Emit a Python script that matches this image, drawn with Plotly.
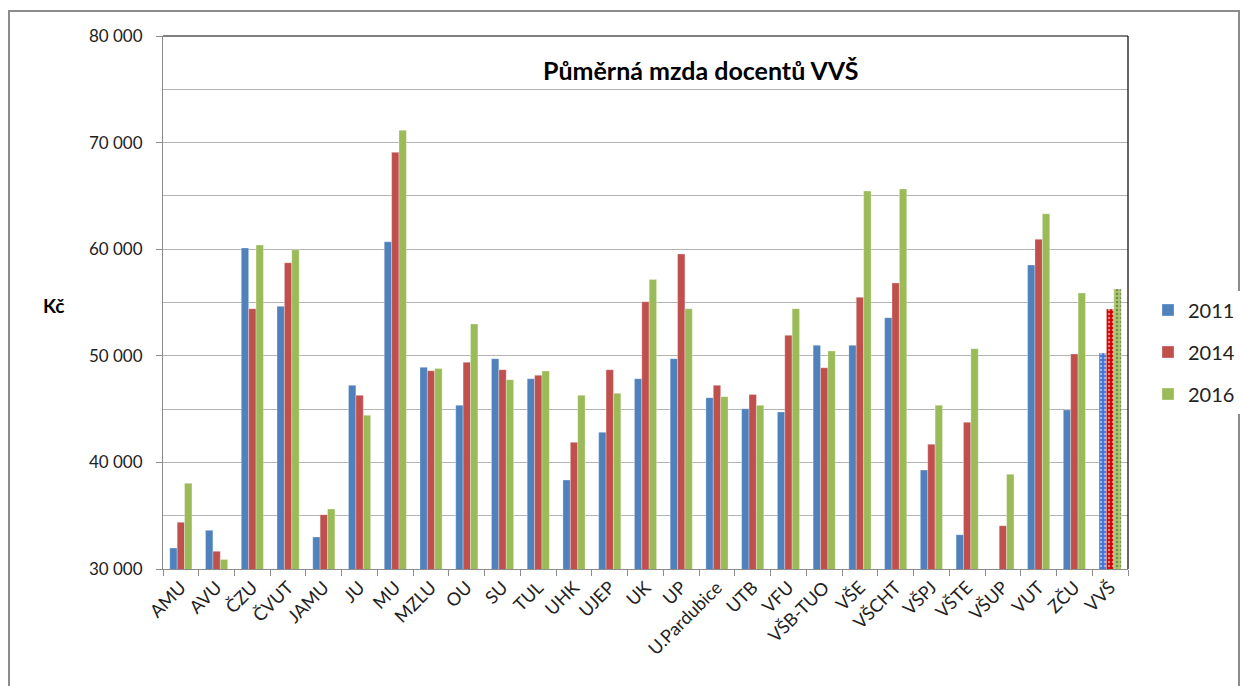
import plotly.graph_objects as go

# Average salary of associate professors (docenti) per university, CZK
schools = ["AMU", "AVU", "ČZU", "ČVUT", "JAMU", "JU", "MU", "MZLU", "OU", "SU",
           "TUL", "UHK", "UJEP", "UK", "UP", "U.Pardubice", "UTB", "VFU", "VŠB-TUO",
           "VŠE", "VŠCHT", "VŠPJ", "VŠTE", "VŠUP", "VUT", "ZČU", "VVŠ"]
mzda_2011 = [31970, 33630, 60110, 54640, 33000, 47230, 60700, 48920, 45360, 49730,
             47850, 38350, 42820, 47850, 49730, 46070, 45040, 44730, 50980,
             50980, 53580, 39290, 33220, None, 58520, 44920, 50260]
mzda_2014 = [34380, 31660, 54420, 58730, 35100, 46290, 69090, 48600, 49400, 48700,
             48170, 41880, 48700, 55080, 59550, 47230, 46380, 51920, 48880,
             55490, 56830, 41700, 43760, 34060, 60930, 50170, 54390]
mzda_2016 = [38040, 30900, 60390, 59950, 35630, 44420, 71150, 48800, 52980, 47760,
             48570, 46290, 46480, 57150, 54420, 46170, 45360, 54420, 50450,
             65460, 65650, 45360, 50670, 38880, 63330, 55890, 56270]
years = ["2011", "2014", "2016"]
y_ticks = [30000, 40000, 50000, 60000, 70000, 80000]

base_colors = ["#4f81bd", "#c0504d", "#9bbb59"]
total_colors = ["#3f74d6", "#d00000", "#a8c86a"]  # VVŠ bars (dotted)

FONT = "Lato, 'Open Sans', sans-serif"

# plot area in pixels
L, R, T, B = 163, 1128, 36, 569
PW, PH = R - L, B - T


def px_x(x):
    return (x - L) / PW


def px_y(y):
    return (B - y) / PH


fig = go.Figure()
for year, vals, col, tcol in zip(years, [mzda_2011, mzda_2014, mzda_2016], base_colors, total_colors):
    n = len(schools)
    colors = [col] * (n - 1) + [tcol]
    shapes = [""] * (n - 1) + ["."]
    fig.add_trace(go.Bar(
        x=schools, y=vals, name=year, legendgroup=year,
        marker=dict(color=colors,
                    line=dict(color="rgba(255,255,255,0.5)", width=0.6),
                    pattern=dict(shape=shapes, fgcolor="white", fillmode="overlay",
                                 size=4, solidity=0.3)),
    ))

fig.update_layout(
    width=1243, height=686,
    margin=dict(l=L, r=1243 - R, t=T, b=686 - B, autoexpand=False),
    paper_bgcolor="white", plot_bgcolor="white",
    barmode="group", bargap=0.38, bargroupgap=0,
    separators=", ",
    font=dict(family=FONT, color="#222222"),
    legend=dict(x=px_x(1148), y=px_y(352), xanchor="left", yanchor="middle",
                font=dict(size=20, color="#222222"),
                traceorder="grouped", tracegroupgap=13,
                itemwidth=30),
    showlegend=True,
)

fig.update_yaxes(
    range=[30000, 80000], tickvals=y_ticks, tickformat=",d",
    tickfont=dict(size=17, color="#222222"),
    ticklabelstandoff=10,
    showgrid=True, gridcolor="#b3b3b3", gridwidth=1.3,
    minor=dict(dtick=5000, showgrid=True, gridcolor="#b3b3b3", gridwidth=1.3),
    showline=True, linecolor="#8c8c8c", linewidth=1,
    ticks="outside", ticklen=6, tickcolor="#8c8c8c",
    zeroline=False, automargin=False,
)
fig.update_xaxes(
    tickangle=-45, tickfont=dict(size=18, color="#222222"),
    showline=True, linecolor="#8c8c8c", linewidth=1,
    ticks="outside", tickson="boundaries", ticklen=6, tickcolor="#8c8c8c",
    showgrid=False, automargin=False,
)

# top and right border of the plot area
fig.add_shape(type="line", xref="paper", yref="paper", x0=0, x1=1, y0=1, y1=1,
              line=dict(color="black", width=1.2))
fig.add_shape(type="line", xref="paper", yref="paper", x0=1, x1=1, y0=0, y1=1,
              line=dict(color="black", width=1.2))
# outer chart border
fig.add_shape(type="rect", xref="paper", yref="paper",
              x0=px_x(9), x1=px_x(1239), y0=px_y(692), y1=px_y(11),
              line=dict(color="#8c8c8c", width=2))

fig.add_annotation(text="<b>Půměrná mzda docentů VVŠ</b>", xref="paper", yref="paper",
                   x=px_x(700), y=px_y(70), xanchor="center", yanchor="middle",
                   showarrow=False, font=dict(size=25, color="black", family=FONT))
fig.add_annotation(text="<b>Kč</b>", xref="paper", yref="paper",
                   x=px_x(53), y=px_y(305), xanchor="center", yanchor="middle",
                   showarrow=False, font=dict(size=19, color="black", family=FONT))

# page body has an 8px default margin; remove it so the chart sits at the corner
fig.write_html("out.html", config={"displayModeBar": False},
               post_script="document.body.style.margin='0';")
